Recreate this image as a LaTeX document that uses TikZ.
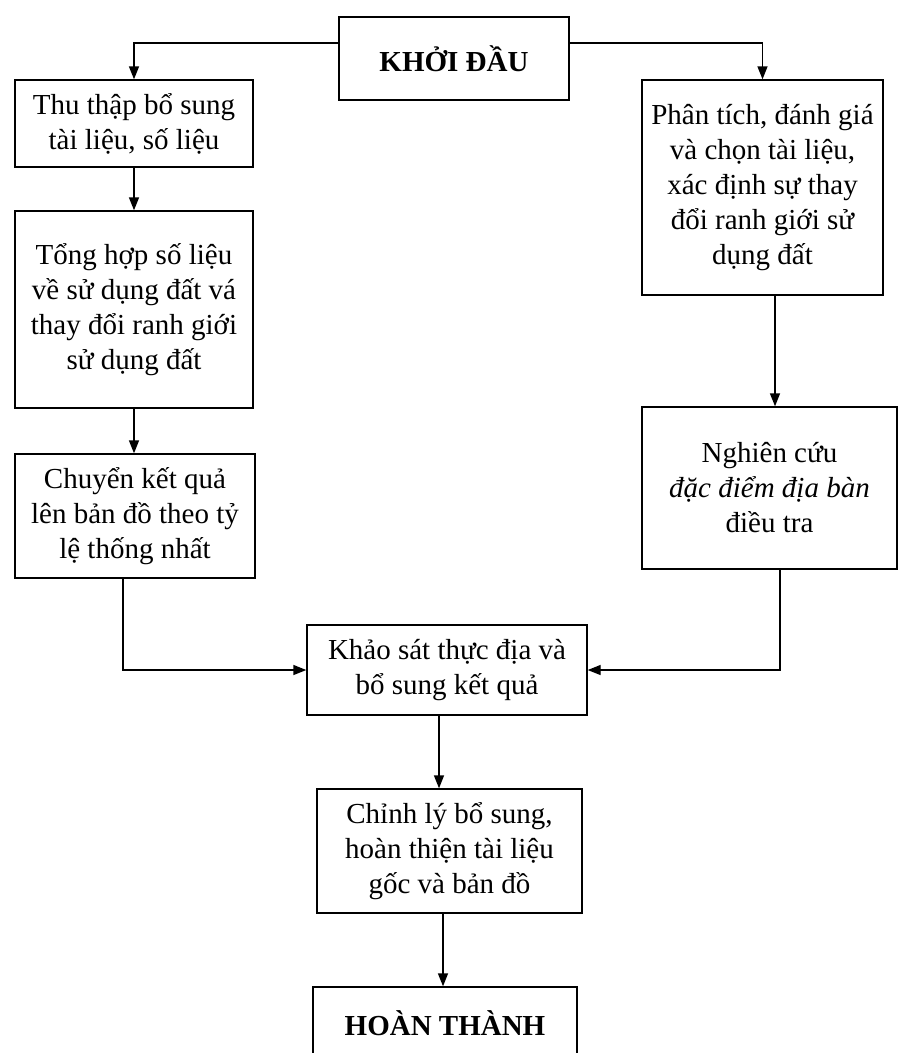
\documentclass[tikz,border=0pt]{standalone}
\usepackage{fontspec}
\setmainfont{Liberation Serif}
\usetikzlibrary{arrows.meta}

\begin{document}
\begin{tikzpicture}[x=1pt,y=-1pt,
    box/.style={draw,line width=1.4pt,align=center,inner sep=3pt,
      font=\fontsize{29}{35}\selectfont},
    arr/.style={line width=1.4pt,-{Triangle[length=13pt,width=10pt]}}]

      \useasboundingbox (0,0) rectangle (898,1053);

      % start
      \node (start) at (454,58.5) [box,minimum width=230pt,minimum height=83pt] {\bfseries KHỞI ĐẦU};

      % left column
      \node (thu) at (134,123.5) [box,minimum width=238pt,minimum height=87pt] {Thu thập bổ sung\\tài liệu, số liệu};
      \node (tong) at (134,309.5) [box,minimum width=238pt,minimum height=197pt] {Tổng hợp số liệu\\về sử dụng đất vá\\thay đổi ranh giới\\sử dụng đất};
      \node (chuyen) at (135,516) [box,minimum width=240pt,minimum height=124pt] {Chuyển kết quả\\lên bản đồ theo tỷ\\lệ thống nhất};

      % right column
      \node (ana) at (762.5,187.5) [box,minimum width=241pt,minimum height=215pt] {Phân tích, đánh giá\\và chọn tài liệu,\\xác định sự thay\\đổi ranh giới sử\\dụng đất};
      \node (nghien) at (769.5,488) [box,minimum width=255pt,minimum height=162pt] {Nghiên cứu\\\textit{đặc điểm địa bàn}\\điều tra};

      % bottom
      \node (khao) at (447,670) [box,minimum width=280pt,minimum height=90pt] {Khảo sát thực địa và\\bổ sung kết quả};
      \node (chinh) at (449.5,851) [box,minimum width=265pt,minimum height=124pt] {Chỉnh lý bổ sung,\\hoàn thiện tài liệu\\gốc và bản đồ};
      \node (hoan) at (445,1023) [box,minimum width=264pt,minimum height=72pt] {\bfseries HOÀN THÀNH};

      % arrows
      \draw[arr] ([yshift=15.5pt]start.west) -| (thu.north);
      \draw[arr] ([yshift=15.5pt]start.east) -| (ana.north);
      \draw[arr] (thu.south) to (tong.north);
      \draw[arr] (tong.south) to ([xshift=-1pt]chuyen.north);
      \draw[arr] ([xshift=-12pt]chuyen.south) |- (khao.west);
      \draw[arr] ([xshift=12.5pt]ana.south) to ([xshift=5.5pt]nghien.north);
      \draw[arr] ([xshift=10.5pt]nghien.south) |- (khao.east);
      \draw[arr] ([xshift=-8pt]khao.south) to ([xshift=-10.5pt]chinh.north);
      \draw[arr] ([xshift=-6.5pt]chinh.south) to ([xshift=-2pt]hoan.north);

    \end{tikzpicture}
\end{document}
